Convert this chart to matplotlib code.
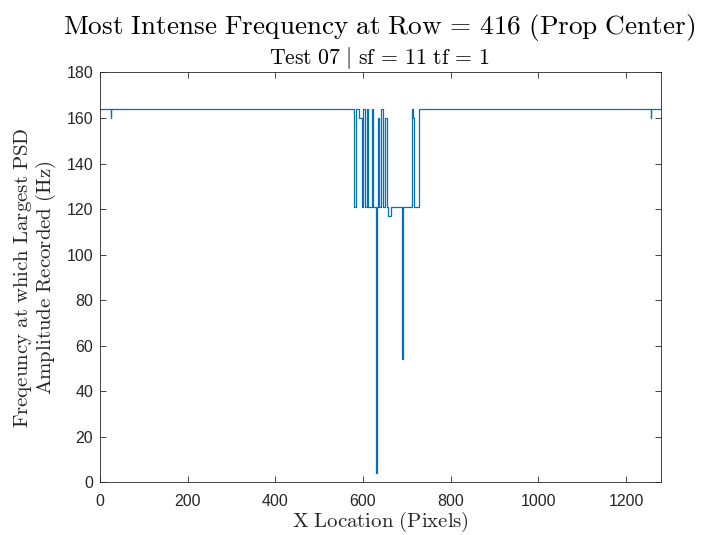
import matplotlib
matplotlib.use("Agg")
import matplotlib.pyplot as plt
import numpy as np

plt.rcParams['mathtext.fontset'] = 'cm'
plt.rcParams['font.family'] = ['Liberation Sans', 'DejaVu Sans']

# run-length description of the trace: column where each run starts, and its value (Hz)
seg_start = [1, 24, 25, 580, 584, 592, 597, 601, 605, 608, 612, 620, 623, 630, 632,
             635, 637, 642, 646, 651, 654, 657, 665, 690, 691, 711, 714, 717, 728,
             1257, 1258, 1280]
seg_value = [164, 160, 164, 121, 164, 160, 121, 164, 121, 164, 121, 164, 121, 4, 121,
             160, 121, 164, 121, 160, 121, 117, 121, 54, 121, 164, 160, 121, 164,
             160, 164, 164]

title_text = r'$\mathrm{Most\ Intense\ Frequency\ at\ Row}\,=\,\mathrm{416\ (Prop\ Center)}$'
subtitle_text = r'$\mathrm{Test\ 07}\ |\ \mathrm{sf}\,=\,\mathrm{11\ tf}\,=\,\mathrm{1}$'
xlabel_text = r'$\mathrm{X\ Location\ (Pixels)}$'
ylabel_text = (r'$\mathrm{Freqeuncy\ at\ which\ Largest\ PSD}$' + '\n' +
               r'$\mathrm{Amplitude\ Recorded\ (Hz)}$')
xticks = [0, 200, 400, 600, 800, 1000, 1200]
yticks = [0, 20, 40, 60, 80, 100, 120, 140, 160, 180]

axis_col = '#262626'
fig = plt.figure(figsize=(7.01, 5.35), dpi=100)
ax = fig.add_axes([0.1427, 0.099, 0.8003, 0.7655])
ax.plot(seg_start, seg_value, drawstyle='steps-post', color='#0072BD', lw=0.9)
ax.set_xlim(0, 1280)
ax.set_ylim(0, 180)
ax.set_xticks(xticks)
ax.set_yticks(yticks)
ax.tick_params(direction='in', top=True, right=True, length=4, width=0.6,
               colors=axis_col, labelsize=11.5)
ax.tick_params(axis='x', pad=8.5)
ax.tick_params(axis='y', pad=5)
for s in ax.spines.values():
    s.set_color(axis_col)
    s.set_linewidth(0.6)

ax.set_xlabel(xlabel_text, fontsize=15, color=axis_col, labelpad=1)
ax.set_ylabel(ylabel_text, fontsize=15, color=axis_col, labelpad=6, linespacing=1.0)
fig.text(0.541, 0.937, title_text, fontsize=19.6, ha='center', va='baseline', color='black')
fig.text(0.541, 0.880, subtitle_text, fontsize=15.7, ha='center', va='baseline', color='black')

fig.savefig('out.png', dpi=100)
